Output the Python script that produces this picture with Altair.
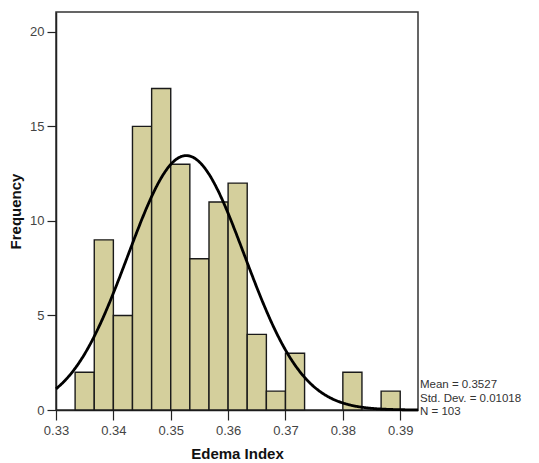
import altair as alt
import pandas as pd

# Histogram bins (Edema Index), bin width 1/300
bin_start = [0.33333, 0.33667, 0.34000, 0.34333, 0.34667, 0.35000, 0.35333,
             0.35667, 0.36000, 0.36333, 0.36667, 0.37000, 0.37333, 0.37667,
             0.38000, 0.38333, 0.38667]
bin_end = [0.33667, 0.34000, 0.34333, 0.34667, 0.35000, 0.35333, 0.35667,
           0.36000, 0.36333, 0.36667, 0.37000, 0.37333, 0.37667, 0.38000,
           0.38333, 0.38667, 0.39000]
counts = [2, 9, 5, 15, 17, 13, 8, 11, 12, 4, 1, 3, 0, 0, 2, 0, 1]

# Summary statistics printed on the chart
MEAN = 0.3527
SD = 0.01018
N = 103
BIN_W = 1.0 / 300.0

x_ticks = [0.33, 0.34, 0.35, 0.36, 0.37, 0.38, 0.39]
y_ticks = [0, 5, 10, 15, 20]
stats_lines = ["Mean = 0.3527", "Std. Dev. = 0.01018", "N = 103"]

X_DOM = [0.33, 0.3931]
Y_DOM = [0, 21.05]
W, H = 362, 398

bars_df = pd.DataFrame({"start": bin_start, "end": bin_end, "count": counts})
bars_df = bars_df[bars_df["count"] > 0]

xscale = alt.Scale(domain=X_DOM, nice=False, zero=False)
yscale = alt.Scale(domain=Y_DOM, nice=False)

xaxis = alt.Axis(values=x_ticks, format=".2f", title="Edema Index",
                 grid=False, tickSize=10, tickColor="#222", domainColor="#222",
                 domainWidth=1.5, tickWidth=1.2, labelFontSize=13,
                 labelColor="#444", labelPadding=4, labelFlush=False,
                 titleFontSize=15, titleFontWeight="bold", titleColor="#111",
                 titlePadding=9,
                 labelFont="Liberation Sans", titleFont="Liberation Sans")
yaxis = alt.Axis(values=y_ticks, title="Frequency", grid=False, tickSize=9,
                 tickColor="#222", domainColor="#222", domainWidth=1.5,
                 tickWidth=1.2, labelFontSize=13, labelColor="#444",
                 labelPadding=3, labelFlush=False, titleFontSize=15,
                 titleFontWeight="bold", titleColor="#111", titlePadding=6,
                 labelFont="Liberation Sans", titleFont="Liberation Sans")

bars = alt.Chart(bars_df).mark_rect(
    fill="#d4cf9c", stroke="#1a1a1a", strokeWidth=1.4
).encode(
    x=alt.X("start:Q", scale=xscale, axis=xaxis),
    x2="end:Q",
    y=alt.Y("count:Q", scale=yscale, axis=yaxis),
    y2=alt.datum(0),
)

curve = alt.Chart(alt.sequence(0, 601, as_="i")).transform_calculate(
    x=f"{X_DOM[0]} + datum.i * ({X_DOM[1]} - {X_DOM[0]}) / 600"
).transform_calculate(
    y=f"{N} * {BIN_W} / ({SD} * sqrt(2 * PI)) * exp(-0.5 * pow((datum.x - {MEAN}) / {SD}, 2))"
).mark_line(color="#000", strokeWidth=2.8).encode(
    x=alt.X("x:Q", scale=xscale),
    y=alt.Y("y:Q", scale=yscale),
)

stats_df = pd.DataFrame({"line": stats_lines, "k": list(range(len(stats_lines)))})
stats = alt.Chart(stats_df).transform_calculate(
    py=f"{H} - 25 + datum.k * 13.5"
).mark_text(
    align="left", baseline="middle", fontSize=11.5, color="#333",
    font="Liberation Sans"
).encode(
    x=alt.value(W + 2),
    y=alt.Y("py:Q", scale=None, axis=None),
    text="line:N",
)

chart = alt.layer(bars, curve, stats).properties(
    width=W, height=H,
    autosize=alt.AutoSizeParams(type="none"),
    padding={"left": 48, "top": 4, "right": 113, "bottom": 52},
).configure_view(
    stroke="#333", strokeWidth=1.5
)

chart.save("out.html", embed_options={"renderer": "svg", "actions": False})
